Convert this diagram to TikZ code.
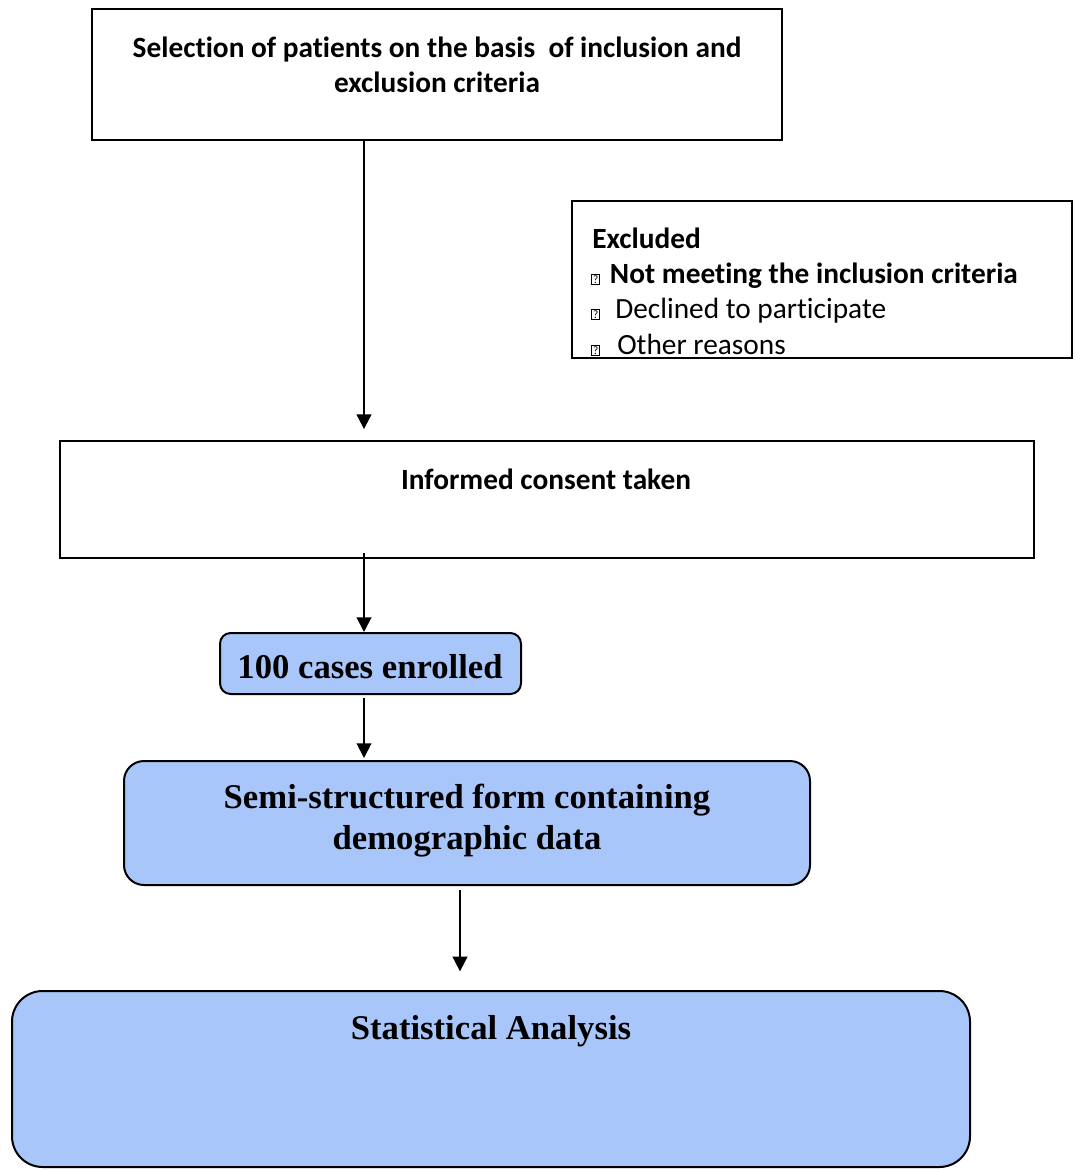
\documentclass[tikz,border=0pt]{standalone}
\usepackage{fontspec}
\setmainfont{Carlito}[Ligatures=NoCommon]
\newfontfamily\tnr{Liberation Serif}
\usetikzlibrary{arrows.meta}
\definecolor{boxblue}{RGB}{169,198,250}
\newcommand{\qbox}{{\fboxsep=0.7pt\fboxrule=0.6pt\raisebox{0pt}{\fbox{\fontsize{8.5}{9}\selectfont ?}}}}
\tikzset{
  plainbox/.style={draw, line width=1.5pt, inner sep=0pt},
  bluebox/.style={draw, line width=1.5pt, fill=boxblue, inner sep=0pt},
  calb/.style={font=\fontsize{22}{26.25}\selectfont\bfseries},
  tms/.style={font=\fontsize{26}{30.75}\selectfont\tnr\bfseries},
  arr/.style={line width=1.5pt, -{Triangle[width=11pt,length=11pt]}}
}
\begin{document}
\begin{tikzpicture}[x=0.75pt,y=-0.75pt]
\path[use as bounding box, fill=white] (0,0) rectangle (1074,1170);
% boxes
\node[plainbox, minimum width=690*0.75pt, minimum height=131*0.75pt] (top) at (437,74.5) {};
\node[plainbox, minimum width=500*0.75pt, minimum height=157*0.75pt] (exc) at (822,279.5) {};
\node[plainbox, minimum width=974*0.75pt, minimum height=117*0.75pt] (inf) at (547,499.5) {};
\node[bluebox, rounded corners=8pt, minimum width=301*0.75pt, minimum height=61*0.75pt] (enr) at (370.5,663.5) {};
\node[bluebox, rounded corners=15pt, minimum width=686*0.75pt, minimum height=124*0.75pt] (semi) at (467,823) {};
\node[bluebox, rounded corners=23pt, minimum width=958*0.75pt, minimum height=176*0.75pt] (stat) at (491,1079) {};
% texts
\node[calb, align=center] (toptxt) at (437,65) {Selection of patients on the basis\ \ of inclusion and\\exclusion criteria};
\node[calb, anchor=base west, inner sep=0pt] (ex1) at (592,248) {Excluded};
\node[anchor=base west, inner sep=0pt] (ex2) at (591,283) {\qbox\hspace{7.5pt}\fontsize{22}{26}\selectfont\bfseries Not meeting the inclusion criteria};
\node[anchor=base west, inner sep=0pt] (ex3) at (591,318) {\qbox\hspace{11.5pt}\fontsize{22}{26}\selectfont Declined to participate};
\node[anchor=base west, inner sep=0pt] (ex4) at (591,354) {\qbox\hspace{13pt}\fontsize{22}{26}\selectfont Other reasons};
\node[calb] (inftxt) at (546,479) {Informed consent taken};
\node[tms] (enrtxt) at (370,667) {100 cases enrolled};
\node[tms, align=center] (semitxt) at (467,821) {Semi-structured form containing\\demographic data};
\node[tms] (stattxt) at (491,1031) {Statistical Analysis};
% connectors
\coordinate (col) at (364,0);
\coordinate (col2) at (460,0);
\draw[arr, shorten >=8.2pt] (top.south -| col) -- (inf.north -| col);
\draw[arr, shorten <=-4.5pt] (inf.south -| col) -- (enr.north -| col);
\draw[arr, shorten <=2pt, shorten >=1.5pt] (enr.south -| col) -- (semi.north -| col);
\draw[arr, shorten <=3pt, shorten >=14pt] (semi.south -| col2) -- (stat.north -| col2);
\end{tikzpicture}
\end{document}
